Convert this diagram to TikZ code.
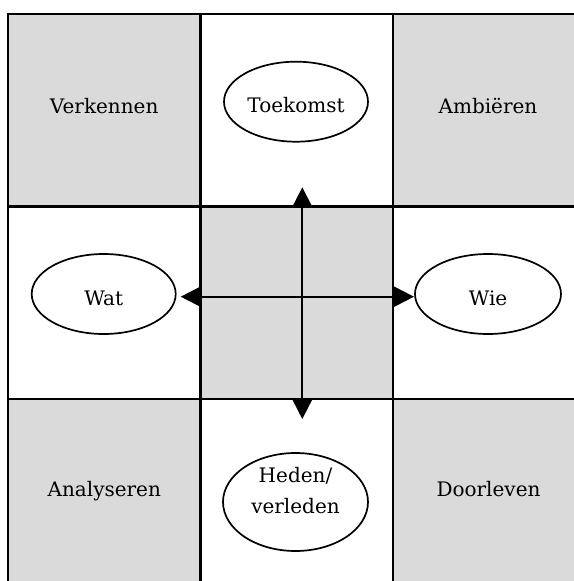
\documentclass[tikz,border=0pt]{standalone}
\usepackage{fontspec}
\setmainfont{DejaVu Serif}
\usetikzlibrary{shapes.geometric,arrows.meta}
\definecolor{cellgray}{RGB}{218,218,218}

\begin{document}
\begin{tikzpicture}[x=1pt,y=-1pt,
                    font=\fontsize{20}{31}\selectfont,
                    cell/.style={minimum width=192.4pt,minimum height=192.4pt,inner sep=0pt,anchor=north west},
                    blob/.style={ellipse,draw,line width=1.7pt,fill=white,minimum width=144pt,minimum height=80pt,
                                 inner sep=0pt,text height=22pt,text depth=0pt,align=center},
                    pijl/.style={line width=2pt,{Triangle[length=20pt,width=20pt]}-{Triangle[length=20pt,width=20pt]}}
]
\useasboundingbox (0,0) rectangle (573,581);

% de negen vakken
\foreach \r/\y in {1/14,2/206.4,3/398.8}
  \foreach \k/\x in {1/8,2/200.4,3/392.8} {
    \pgfmathparse{int(mod(\r+\k,2))}
    \ifnum\pgfmathresult=0
      \node [cell,fill=cellgray] at (\x,\y) (c\r\k) {};
    \else
      \node [cell,fill=white] at (\x,\y) (c\r\k) {};
    \fi
  }
\foreach \c in {c11,c12,c13,c21,c22,c23,c31,c32,c33}
  \draw [line width=2pt] (\c.north west) rectangle (\c.south east);
%
\node [anchor=base] at (104.2,113) (verk) {Verkennen};
\node [anchor=base] at (488,113) (ambi) {Ambiëren};
\node [anchor=base] at (104.3,496.7) (anal) {Analyseren};
\node [anchor=base] at (488.5,496.7) (door) {Doorleven};

\node [blob] at (296,101.7) (toek) {Toekomst};
\node [blob] at (103.7,294) (wat) {Wat};
\node [blob,minimum width=146pt] at (488,294) (wie) {Wie};
\node [blob,minimum width=145pt,minimum height=98pt] at (295.5,502) (heden) {Heden/\\verleden};

% assen
\coordinate (west) at (180.7,296.7);
\coordinate (oost) at (414,296.7);
\coordinate (noord) at (302.3,187.3);
\coordinate (zuid) at (302.3,419);
\draw [pijl] (west) -- (oost);
\draw [pijl] (noord) -- (zuid);
\end{tikzpicture}
\end{document}
